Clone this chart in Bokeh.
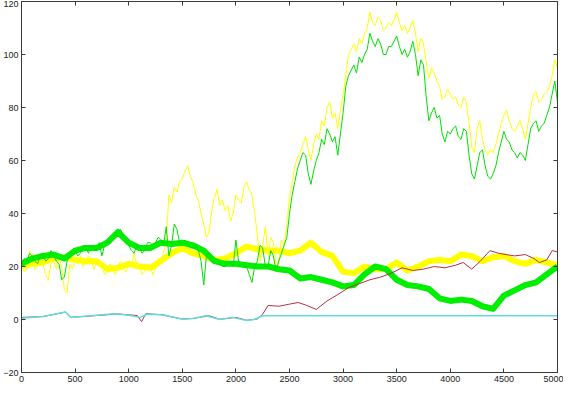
from bokeh.plotting import figure
from bokeh.models import LinearAxis, Range1d, FixedTicker
from bokeh.embed import file_html
from bokeh.resources import INLINE

# ---------------- data ----------------
x_fine = list(range(0, 5001, 25))
thin_yellow = [22, 18, 19, 26, 25, 19, 20, 23, 21, 17,
               15, 21, 22, 19, 23, 20, 11, 10, 21, 19,
               23, 21, 24, 20, 22, 24, 23, 19, 21, 22,
               20, 17, 18, 21, 19, 17, 20, 22, 19, 18,
               21, 20, 25, 21, 20, 17, 18, 21, 20, 17,
               19, 23, 22, 25, 30, 47, 44, 50, 48, 52,
               53, 56, 58, 54, 52, 47, 45, 40, 36, 31,
               33, 41, 46, 49, 43, 45, 41, 43, 37, 40,
               47, 45, 44, 50, 52, 49, 47, 40, 32, 22,
               28, 35, 24, 31, 29, 20, 22, 30, 28, 36,
               46, 52, 58, 61, 63, 66, 69, 64, 60, 66,
               70, 68, 75, 73, 80, 82, 76, 78, 72, 79,
               85, 92, 100, 102, 104, 101, 106, 104, 108, 110,
               116, 112, 111, 114, 113, 109, 110, 112, 111, 113,
               116, 112, 109, 111, 108, 110, 113, 108, 101, 106,
               104, 97, 91, 95, 93, 90, 88, 83, 84, 87,
               85, 83, 84, 81, 80, 84, 82, 74, 65, 63,
               72, 75, 68, 64, 62, 64, 63, 66, 70, 74,
               77, 79, 75, 72, 71, 73, 75, 72, 68, 74,
               80, 85, 86, 82, 83, 85, 86, 88, 92, 98,
               95]
thin_green = [20, 23, 22, 25, 24, 22, 21, 24, 25, 22,
              23, 26, 24, 22, 21, 15, 16, 22, 24, 25,
              26, 24, 25, 28, 27, 25, 28, 27, 26, 29,
              24, 28, 30, 29, 31, 32, 33, 34, 31, 30,
              28, 26, 25, 28, 27, 25, 26, 29, 29, 28,
              29, 31, 30, 28, 35, 24, 28, 36, 34, 29,
              29, 30, 29, 27, 27, 28, 26, 22, 13, 24,
              25, 22, 22, 23, 21, 20, 20, 21, 22, 20,
              30, 22, 21, 20, 20, 17, 14, 20, 22, 28,
              27, 20, 20, 26, 24, 18, 22, 25, 28, 31,
              40, 47, 52, 57, 60, 63, 62, 55, 51, 56,
              60, 63, 68, 66, 72, 70, 67, 69, 62, 70,
              78, 88, 92, 94, 96, 93, 99, 97, 100, 102,
              108, 105, 103, 106, 104, 100, 100, 103, 103, 105,
              107, 103, 100, 102, 99, 101, 105, 100, 92, 98,
              96, 84, 75, 78, 80, 76, 77, 70, 67, 71,
              70, 72, 73, 69, 68, 72, 71, 62, 55, 53,
              58, 63, 64, 58, 54, 53, 55, 58, 63, 67,
              71, 68, 67, 64, 63, 61, 63, 62, 60, 66,
              72, 74, 75, 71, 73, 74, 77, 80, 85, 90,
              82]

x_coarse = list(range(0, 5001, 100))
thick_green = [21, 23, 24, 24.5, 23, 26, 27, 27, 29, 33,
               29, 27, 27, 29, 28.5, 29, 28, 26, 22, 21,
               21, 20.5, 20, 20, 19, 18.5, 15.5, 16, 15, 14,
               12.5, 13, 17, 20, 19, 15, 13, 12.5, 11.5, 8,
               7, 7.5, 7, 5, 4, 9, 11, 13, 14, 17, 20]
thick_yellow = [20, 21, 21.5, 23, 23.5, 22.5, 22, 22, 19, 19.5,
                21, 20, 19.5, 22, 25, 27, 25, 24, 22.5, 23,
                25, 27.5, 26.5, 26, 26, 25, 26, 29, 25.5, 24,
                18, 17.5, 20, 19, 19, 21.5, 18.5, 20, 22, 22.5,
                22, 24.5, 24, 22, 23.5, 24, 22, 21, 22.5, 21.5, 20.5]

red_x = [0, 200, 410, 460, 700, 900, 1080, 1120, 1160, 1300, 1500, 1600, 1750,
         1850, 2000, 2100, 2200, 2250, 2300, 2400, 2500, 2580, 2650, 2750, 2850,
         2950, 3050, 3150, 3250, 3350, 3450, 3550, 3650, 3750, 3850, 3950, 4050,
         4120, 4200, 4280, 4370, 4450, 4520, 4600, 4700, 4780, 4830, 4900, 4950, 5000]
red_y = [0.8, 1.1, 2.8, 0.8, 1.5, 2.1, 1.5, -0.8, 2.2, 1.8, 0.2, 0.4, 1.4,
         0.1, 0.8, -0.3, 0.2, 2.0, 5.3, 5.0, 5.8, 6.4, 5.5, 3.8, 7.0,
         9.4, 12, 13.5, 15, 16, 17.5, 19.5, 18.5, 19, 20, 19.5, 20.5,
         21.5, 19, 22, 26, 25, 24.5, 24, 24.5, 23, 21.5, 22.5, 26, 25.5]

cyan_x = [0, 200, 410, 460, 670, 860, 1000, 1108, 1170, 1320, 1500, 1600,
          1720, 1850, 1970, 2100, 2170, 2250, 5000]
cyan_y = [0.5, 1.1, 2.8, 0.8, 1.5, 2.2, 1.6, 0.8, 2.0, 1.8, 0.1, 0.4,
          1.4, 0.0, 0.8, -0.4, 0.0, 1.4, 1.4]

x_ticks = list(range(0, 5001, 500))
y_ticks = list(range(-20, 121, 20))

# ---------------- figure ----------------
p = figure(width=563, height=387, output_backend="svg", toolbar_location=None,
           x_range=Range1d(0, 5000), y_range=Range1d(-20, 120),
           min_border_left=20, min_border_right=6, min_border_top=1,
           min_border_bottom=15, background_fill_color="white",
           border_fill_color="white")
p.grid.visible = False
p.outline_line_color = "#3a3a3a"

p.line(x_fine, thin_yellow, line_color="#ffff00", line_width=1)
p.line(x_coarse, thick_yellow, line_color="#ffff00", line_width=6, line_join="round")
p.line(x_coarse, thick_green, line_color="#00ee00", line_width=6, line_join="round")
p.line(x_fine, thin_green, line_color="#00e000", line_width=1)
p.line(red_x, red_y, line_color="#b83040", line_width=1)
p.line(cyan_x, cyan_y, line_color="#60dede", line_width=1.5)


def style(ax, labels=True):
    ax.axis_line_color = "#3a3a3a"
    ax.major_tick_line_color = "#3a3a3a"
    ax.major_tick_in = 4
    ax.major_tick_out = 0
    ax.minor_tick_line_color = None
    ax.major_label_text_font = "Liberation Sans"
    if labels:
        ax.major_label_text_font_size = "9px"
        ax.major_label_text_color = "#222222"
        ax.major_label_standoff = 3
    else:
        ax.major_label_text_font_size = "1px"
        ax.major_label_text_color = None
        ax.major_label_standoff = 0


p.xaxis.ticker = FixedTicker(ticks=x_ticks)
p.yaxis.ticker = FixedTicker(ticks=y_ticks)
style(p.xaxis[0])
style(p.yaxis[0])

top = LinearAxis(ticker=FixedTicker(ticks=x_ticks))
style(top, labels=False)
p.add_layout(top, "above")
right = LinearAxis(ticker=FixedTicker(ticks=y_ticks))
style(right, labels=False)
p.add_layout(right, "right")

open("out.html", "w").write(file_html(p, INLINE))
